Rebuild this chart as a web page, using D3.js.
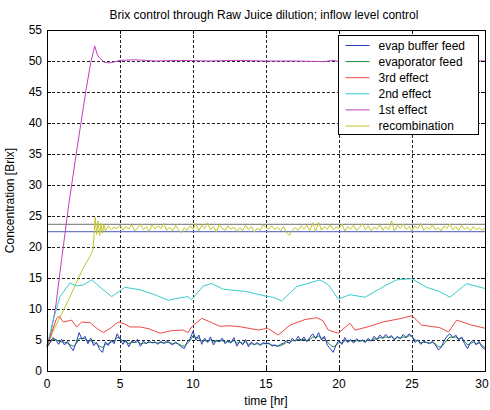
<!DOCTYPE html>
<html>
<head>
<meta charset="utf-8">
<script src="https://cdnjs.cloudflare.com/ajax/libs/d3/7.8.5/d3.min.js"></script>
<style>
  body { margin: 0; background: #fff; }
  svg text { font-family: Arial, "Liberation Sans", sans-serif; font-size: 12px; fill: #000; }
</style>
</head>
<body>
<svg width="490" height="410"></svg>
<script>
// ---- data ----
var seriesNames = ["evap buffer feed", "evaporator feed", "3rd effect", "2nd effect", "1st effect", "recombination"];
var seriesColors = ["#2a3cc0", "#1a8a3a", "#f04848", "#38cccc", "#c040c0", "#c4c428"];

var xTicks = [0, 5, 10, 15, 20, 25, 30];
var yTicks = [0, 5, 10, 15, 20, 25, 30, 35, 40, 45, 50, 55];

// reference levels (horizontal lines)
var upperLevel = 23.65;
var lowerLevel = 22.47;

// noisy series sampled every 0.2 hr from t = 0
var evapBufferFeed = [4.0, 4.6, 5.4, 5.0, 4.3, 5.1, 4.2, 4.8, 3.9, 3.3,
  4.6, 6.2, 5.1, 5.6, 4.4, 5.3, 4.1, 4.6, 3.5, 3.0,
  4.7, 4.1, 5.0, 4.4, 6.0, 5.2, 4.3, 5.0, 3.9, 4.8,
  4.6, 5.1, 4.0, 4.8, 4.4, 4.9, 4.5, 4.7, 4.3, 4.8,
  4.4, 4.9, 4.5, 4.2, 4.7, 4.3, 3.9, 3.6, 4.7, 5.2,
  6.4, 5.0, 5.8, 4.3, 5.3, 4.6, 5.5, 4.2, 5.0, 4.7,
  5.3, 4.4, 4.9, 4.5, 5.4, 4.0, 4.8, 4.2, 5.1, 3.9,
  4.7, 4.2, 4.6, 4.1, 4.6, 4.4, 4.5, 4.0, 4.2, 4.0,
  4.3, 4.5, 4.9, 4.4, 5.3, 4.8, 5.6, 4.9, 5.5, 4.7,
  5.4, 6.0, 5.2, 6.2, 5.0, 5.6, 4.2, 3.6, 3.0, 4.2,
  5.0, 4.3, 5.4, 4.6, 5.1, 4.5, 5.2, 4.8, 5.0, 4.6,
  5.3, 4.8, 5.6, 5.1, 5.8, 5.3, 5.9, 5.4, 5.7, 5.0,
  5.6, 5.2, 5.9, 5.4, 6.0, 5.6, 4.6, 5.0, 4.3, 4.8,
  4.6, 4.4, 4.8, 4.2, 3.4, 3.8, 4.9, 5.6, 6.0, 5.4,
  5.8, 5.0, 5.5, 4.4, 3.6, 4.6, 5.0, 4.2, 4.8, 3.8,
  3.5];

var evaporatorFeed = [3.8, 4.5, 5.1, 5.1, 4.8, 4.7, 4.6, 4.5, 4.2, 4.0,
  4.4, 5.2, 5.3, 5.2, 4.8, 4.9, 4.6, 4.4, 4.0, 3.8,
  4.3, 4.4, 4.7, 4.8, 5.4, 5.3, 4.8, 4.7, 4.4, 4.6,
  4.6, 4.7, 4.4, 4.5, 4.5, 4.6, 4.6, 4.6, 4.5, 4.6,
  4.5, 4.6, 4.6, 4.4, 4.5, 4.4, 4.1, 4.0, 4.4, 4.9,
  5.7, 5.4, 5.3, 4.8, 4.9, 4.8, 5.0, 4.7, 4.8, 4.8,
  4.9, 4.7, 4.7, 4.7, 4.9, 4.5, 4.6, 4.5, 4.7, 4.3,
  4.4, 4.3, 4.4, 4.3, 4.4, 4.4, 4.4, 4.2, 4.1, 4.0,
  4.1, 4.3, 4.6, 4.6, 4.9, 4.9, 5.1, 5.0, 5.1, 4.9,
  5.1, 5.5, 5.4, 5.6, 5.3, 5.3, 4.7, 4.2, 3.9, 4.1,
  4.6, 4.5, 4.9, 4.8, 4.9, 4.7, 4.9, 4.8, 4.9, 4.7,
  5.0, 4.9, 5.2, 5.1, 5.4, 5.3, 5.5, 5.4, 5.5, 5.2,
  5.4, 5.3, 5.5, 5.4, 5.7, 5.6, 5.0, 4.9, 4.6, 4.6,
  4.6, 4.5, 4.6, 4.4, 3.9, 3.9, 4.4, 5.0, 5.5, 5.4,
  5.5, 5.2, 5.3, 4.8, 4.2, 4.4, 4.7, 4.4, 4.5, 4.1,
  3.8];

// smooth series as [time, value]
var thirdEffect = [[0, 4.0], [0.3, 6.0], [0.66, 8.5], [0.84, 8.8], [1.12, 7.9], [1.69, 8.2], [2.03, 7.1],
  [2.37, 7.9], [2.95, 7.8], [3.4, 6.9], [3.86, 6.2], [4.4, 7.0], [4.88, 7.9], [5.3, 7.6], [5.68, 7.1],
  [6.37, 7.1], [7.0, 6.8], [7.74, 6.1], [8.54, 6.5], [9.34, 6.6], [9.66, 6.2], [9.9, 7.1], [10.6, 8.5],
  [11.28, 7.8], [11.85, 7.2], [12.5, 7.3], [13.33, 7.1], [14.47, 6.6], [15.1, 6.9], [15.84, 5.8],
  [16.64, 7.4], [17.67, 8.3], [18.47, 8.6], [18.9, 8.1], [19.27, 6.6], [19.95, 6.1], [20.75, 7.7],
  [21.1, 6.6], [22.1, 7.2], [23.0, 7.9], [24.3, 8.5], [25.0, 8.9], [25.66, 7.4], [26.9, 7.0],
  [27.5, 6.3], [28.06, 8.2], [29.1, 7.4], [30, 6.9]];

var secondEffect = [[0, 4.0], [0.4, 8.0], [0.89, 12.0], [1.58, 14.2], [2.03, 13.7], [2.5, 13.9], [3.06, 14.7],
  [3.7, 13.4], [4.43, 12.0], [5.34, 13.5], [6.37, 13.1], [7.5, 12.2], [8.3, 11.4], [9.1, 11.8], [9.66, 12.0],
  [9.9, 11.5], [10.7, 13.7], [11.28, 14.1], [12.07, 13.2], [13.7, 12.8], [14.93, 12.1], [15.5, 11.9],
  [16.07, 11.3], [17.1, 13.6], [18.7, 14.7], [19.27, 13.9], [19.95, 11.6], [20.75, 12.3], [21.78, 11.9],
  [23.27, 13.9], [23.95, 14.7], [24.98, 14.9], [26.0, 13.5], [26.9, 12.8], [27.6, 11.9], [28.75, 14.1],
  [30, 13.3]];

var firstEffect = [[0, 4.0], [0.3, 6.5], [0.6, 10.5], [1.0, 18.0], [1.5, 27.0], [2.0, 35.0], [2.65, 45.0],
  [3.0, 49.8], [3.27, 52.4], [3.45, 51.0], [3.6, 50.5], [3.9, 49.8], [4.3, 49.7], [4.7, 49.9], [5.0, 50.1],
  [6.0, 50.2], [7.5, 50.0], [9.0, 50.1], [11.0, 50.0], [13.0, 50.1], [15.0, 50.0], [17.0, 50.0],
  [19.0, 49.9], [19.6, 50.1], [20.0, 49.9], [22.0, 50.0], [25.0, 50.0], [28.0, 50.0], [30, 50.0]];

// recombination: start-up [time, value], then samples every 0.2 hr from t = 4.0
var recombStart = [[0, 4.0], [0.5, 6.8], [1.0, 9.2], [1.5, 11.6], [2.0, 14.2], [2.5, 16.7], [2.9, 18.3],
  [3.15, 19.5], [3.3, 24.8], [3.4, 22.0], [3.5, 24.2], [3.6, 21.8], [3.7, 23.8], [3.8, 22.2], [3.9, 23.6]];
var recombNoise = [22.6, 23.4, 22.8, 23.2, 23.0, 23.5, 22.7, 23.3, 22.9, 23.6,
  22.6, 23.1, 23.7, 22.8, 23.3, 22.5, 23.6, 22.9, 23.4, 23.0,
  23.8, 22.7, 23.2, 22.6, 23.5, 22.8, 22.3, 23.1, 22.7, 23.4,
  22.9, 23.8, 22.6, 23.5, 23.0, 23.9, 22.8, 23.3, 22.4, 23.6,
  23.0, 22.7, 23.4, 22.9, 23.2, 22.5, 23.1, 22.6, 23.5, 22.8,
  23.3, 22.4, 23.0, 22.7, 23.6, 23.1, 22.9, 23.4, 22.8, 23.2,
  22.6, 23.3, 22.3, 21.9, 22.8, 23.1, 22.7, 23.4, 22.9, 23.5,
  22.6, 23.9, 22.5, 24.0, 22.7, 23.3, 22.9, 23.6, 22.8, 23.2,
  23.0, 23.7, 22.6, 23.3, 22.9, 23.5, 22.7, 23.1, 23.8, 22.8,
  23.4, 22.6, 23.2, 22.9, 23.6, 22.7, 23.3, 22.8, 24.2, 22.6,
  23.5, 23.0, 23.7, 22.8, 23.3, 22.6, 23.4, 23.0, 23.8, 22.7,
  23.2, 22.9, 23.6, 22.8, 23.1, 22.6, 23.4, 23.0, 23.7, 22.8,
  23.3, 22.7, 23.5, 22.9, 23.2, 22.6, 23.3, 22.8, 23.1, 22.7,
  23.0];

// ---- drawing ----
var svg = d3.select("svg");
var plotLeft = 47, plotRight = 485, plotTop = 30, plotBottom = 371;

var x = d3.scaleLinear().domain([0, 30]).range([plotLeft, plotRight]);
var y = d3.scaleLinear().domain([0, 55]).range([plotBottom, plotTop]);

var sampled = function (vals, t0) {
  return vals.map(function (v, i) { return [t0 + i * 0.2, v]; });
};

var seriesData = [
  sampled(evapBufferFeed, 0),
  sampled(evaporatorFeed, 0),
  thirdEffect,
  secondEffect,
  firstEffect,
  recombStart.concat(sampled(recombNoise, 4.0))
];

svg.append("rect").attr("x", plotLeft).attr("y", plotTop)
  .attr("width", plotRight - plotLeft).attr("height", plotBottom - plotTop).attr("fill", "#fff");

// grid
var grid = svg.append("g").attr("stroke", "#222").attr("stroke-dasharray", "3,2").attr("stroke-width", 1);
grid.selectAll("line.gx").data(xTicks.slice(1, -1)).enter().append("line")
  .attr("x1", function (d) { return Math.round(x(d)) + 0.5; })
  .attr("x2", function (d) { return Math.round(x(d)) + 0.5; })
  .attr("y1", plotTop).attr("y2", plotBottom);
grid.selectAll("line.gy").data(yTicks.slice(1, -1)).enter().append("line")
  .attr("y1", function (d) { return Math.round(y(d)) + 0.5; })
  .attr("y2", function (d) { return Math.round(y(d)) + 0.5; })
  .attr("x1", plotLeft).attr("x2", plotRight);

// reference levels
svg.append("line").attr("x1", plotLeft).attr("x2", plotRight)
  .attr("y1", y(upperLevel)).attr("y2", y(upperLevel))
  .attr("stroke", "#8c8c8c").attr("stroke-width", 1.2);
svg.append("line").attr("x1", plotLeft).attr("x2", plotRight)
  .attr("y1", y(lowerLevel)).attr("y2", y(lowerLevel))
  .attr("stroke", "#6a7cc4").attr("stroke-width", 1.2);

var line = d3.line()
  .x(function (d) { return x(d[0]); })
  .y(function (d) { return y(d[1]); });

var drawOrder = [5, 4, 3, 2, 1, 0];
drawOrder.forEach(function (i) {
  svg.append("path")
    .datum(seriesData[i])
    .attr("fill", "none")
    .attr("stroke", seriesColors[i])
    .attr("stroke-width", 1)
    .attr("d", line);
});

// box and inner ticks
svg.append("rect").attr("x", plotLeft + 0.5).attr("y", plotTop + 0.5)
  .attr("width", plotRight - plotLeft).attr("height", plotBottom - plotTop)
  .attr("fill", "none").attr("stroke", "#000");

var ticks = svg.append("g").attr("stroke", "#000");
xTicks.forEach(function (t) {
  var px = Math.round(x(t)) + 0.5;
  ticks.append("line").attr("x1", px).attr("x2", px).attr("y1", plotBottom).attr("y2", plotBottom - 4);
  ticks.append("line").attr("x1", px).attr("x2", px).attr("y1", plotTop).attr("y2", plotTop + 4);
});
yTicks.forEach(function (t) {
  var py = Math.round(y(t)) + 0.5;
  ticks.append("line").attr("x1", plotLeft).attr("x2", plotLeft + 4).attr("y1", py).attr("y2", py);
  ticks.append("line").attr("x1", plotRight).attr("x2", plotRight - 4).attr("y1", py).attr("y2", py);
});

// last x label would run off the window edge, so keep it just inside
svg.append("g").selectAll("text").data(xTicks).enter().append("text")
  .attr("x", function (d) { return Math.min(x(d), 482); })
  .attr("y", 388)
  .attr("text-anchor", "middle")
  .text(function (d) { return d; });

svg.append("g").selectAll("text").data(yTicks).enter().append("text")
  .attr("x", 42)
  .attr("y", function (d) { return y(d) + 4; })
  .attr("text-anchor", "end")
  .text(function (d) { return d; });

svg.append("text").attr("x", (plotLeft + plotRight) / 2).attr("y", 405)
  .attr("text-anchor", "middle").text("time [hr]");

svg.append("text")
  .attr("transform", "translate(14," + ((plotTop + plotBottom) / 2) + ") rotate(-90)")
  .attr("text-anchor", "middle").text("Concentration [Brix]");

svg.append("text").attr("x", 264).attr("y", 19)
  .attr("text-anchor", "middle").text("Brix control through Raw Juice dilution; inflow level control");

// legend
var legend = svg.append("g").attr("transform", "translate(338.5,35.5)");
legend.append("rect").attr("width", 140).attr("height", 99)
  .attr("fill", "#fff").attr("stroke", "#000");
seriesNames.forEach(function (name, i) {
  var ly = 10 + i * 16.1;
  legend.append("line").attr("x1", 7).attr("x2", 31)
    .attr("y1", ly).attr("y2", ly)
    .attr("stroke", seriesColors[i]);
  legend.append("text").attr("x", 40).attr("y", ly + 4).text(name);
});
</script>
</body>
</html>
